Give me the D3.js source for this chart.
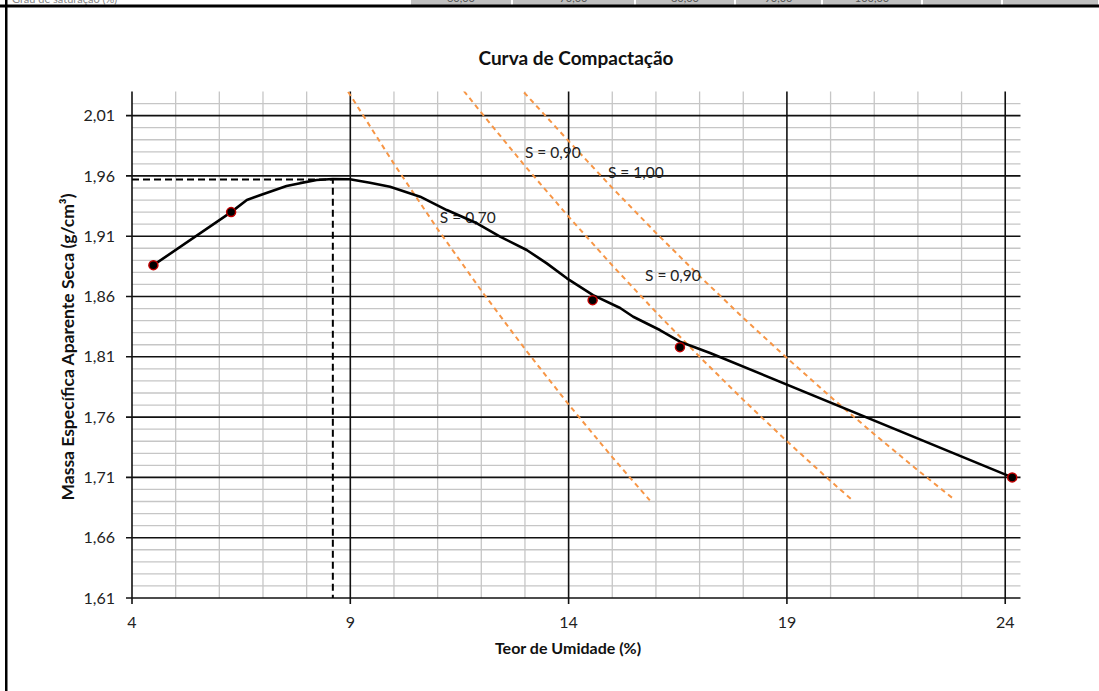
<!DOCTYPE html>
<html>
<head>
<meta charset="utf-8">
<script src="https://cdn.jsdelivr.net/npm/d3@7"></script>
<style>
  body { margin: 0; background: #fff; }
  svg { display: block; font-family: Lato, "Open Sans", sans-serif; }
</style>
</head>
<body>
<svg width="1099" height="691"></svg>
<script>
// measured points (umidade %, massa especifica g/cm3)
const pointW = [4.49, 6.27, 14.55, 16.55, 24.16];
const pointRho = [1.886, 1.930, 1.857, 1.818, 1.710];

// fitted compaction curve as plotted
const curveW = [4.49, 6.27, 6.63, 6.93, 7.54, 7.85, 8.23, 8.60, 8.99, 9.45, 9.91, 10.60, 11.21,
  11.90, 12.43, 13.04, 13.50, 13.96, 14.56, 15.18, 15.48, 16.09, 16.55, 17.24, 24.16];
const curveRho = [1.886, 1.930, 1.940, 1.944, 1.9516, 1.954, 1.9566, 1.9574, 1.9572, 1.9544, 1.951,
  1.9428, 1.9317, 1.9207, 1.9096, 1.8986, 1.8875, 1.8751, 1.8612, 1.8505, 1.8432, 1.8322, 1.8225, 1.8132, 1.710];

// saturation lines
const sat070W = [8.95, 10, 11, 12, 13, 14, 15, 15.86];
const sat070Rho = [2.0298, 1.970, 1.9159, 1.8649, 1.8165, 1.7705, 1.7268, 1.6909];
const sat090W = [11.6, 12, 13, 14, 15, 16, 17, 18, 19, 20, 20.5];
const sat090Rho = [2.0305, 2.0124, 1.9683, 1.9262, 1.8858, 1.8471, 1.8100, 1.7743, 1.7400, 1.7070, 1.6910];
const sat100W = [12.98, 14, 15, 16, 17, 18, 19, 20, 21, 22, 22.85];
const sat100Rho = [2.0292, 1.9889, 1.9501, 1.9128, 1.8769, 1.8423, 1.8090, 1.7768, 1.7458, 1.7159, 1.6912];

// optimum
const wOtima = 8.6;
const rhoMax = 1.957;

const satLabels = ["S = 0,70", "S = 0,90", "S = 1,00", "S = 0,90"];
const satLabelW = [11.05, 13.0, 14.9, 15.75];
const satLabelRho = [1.9255, 1.9795, 1.9625, 1.8775];

const xTicks = [4, 9, 14, 19, 24];
const yTicks = [1.61, 1.66, 1.71, 1.76, 1.81, 1.86, 1.91, 1.96, 2.01];

// spreadsheet row cut off above the chart
const rowLabel = "Grau de saturação (%)";
const rowValues = ["60,00", "70,00", "80,00", "90,00", "100,00", "", ""];

const svg = d3.select("svg");
const width = +svg.attr("width");

const x = d3.scaleLinear().domain([4, 24.35]).range([132, 1020.5]);
const y = d3.scaleLinear().domain([1.61, 2.03]).range([598, 91.5]);
const fmt = d3.formatLocale({decimal: ",", thousands: ".", grouping: [3], currency: ["", ""]});
const f2 = fmt.format(".2f");

// --- top row of the sheet
const cellEdges = [410, 512, 635, 735, 822, 922, 1002, 1099];
svg.append("clipPath").attr("id", "row").append("rect").attr("x", 0).attr("y", 0).attr("width", width).attr("height", 5);
const row = svg.append("g").attr("clip-path", "url(#row)");
row.append("text").attr("x", 12).attr("y", 2.5).attr("font-size", 11).attr("fill", "#888").text(rowLabel);
cellEdges.slice(0, -1).forEach((e, i) => {
  row.append("rect").attr("x", e + 1).attr("y", 0).attr("width", cellEdges[i + 1] - e - 2).attr("height", 5)
    .attr("fill", "#c0c0c0");
  row.append("text").attr("x", (e + cellEdges[i + 1]) / 2).attr("y", 2).attr("text-anchor", "middle")
    .attr("font-size", 11).attr("fill", "#555").text(rowValues[i]);
});
svg.append("rect").attr("x", 0).attr("y", 4.5).attr("width", width).attr("height", 3).attr("fill", "#000");
svg.append("rect").attr("x", 5).attr("y", 0).attr("width", 2.5).attr("height", 691).attr("fill", "#000");

// --- grid
const grid = svg.append("g");
const [x0, x1] = x.range();
const [y0, y1] = y.range();
d3.range(161, 203).map(v => v / 100).forEach(v => {
  if (Math.round(v * 100 - 161) % 5 === 0) return;
  grid.append("line").attr("x1", x0).attr("x2", x1).attr("y1", y(v)).attr("y2", y(v))
    .attr("stroke", "#c6c6c6").attr("stroke-width", 1.3);
});
d3.range(5, 25).forEach(v => {
  if ((v - 4) % 5 === 0) return;
  grid.append("line").attr("x1", x(v)).attr("x2", x(v)).attr("y1", y0).attr("y2", y1)
    .attr("stroke", "#c6c6c6").attr("stroke-width", 1.3);
});
yTicks.forEach(v => {
  grid.append("line").attr("x1", x0 - 6).attr("x2", x1).attr("y1", y(v)).attr("y2", y(v))
    .attr("stroke", "#111").attr("stroke-width", 1.6);
});
xTicks.forEach(v => {
  grid.append("line").attr("x1", x(v)).attr("x2", x(v)).attr("y1", y0 + 6).attr("y2", y1)
    .attr("stroke", "#111").attr("stroke-width", 1.6);
});

// tick labels
svg.append("g").selectAll("text").data(yTicks).join("text")
  .attr("x", 115).attr("y", d => y(d)).attr("dy", "0.35em").attr("text-anchor", "end")
  .attr("font-size", 16).attr("fill", "#222").text(d => f2(d));
svg.append("g").selectAll("text").data(xTicks).join("text")
  .attr("x", d => x(d)).attr("y", 628).attr("text-anchor", "middle")
  .attr("font-size", 16).attr("fill", "#222").text(d => d);

// --- saturation lines
svg.append("clipPath").attr("id", "plot").append("rect")
  .attr("x", x0).attr("y", y1).attr("width", x1 - x0).attr("height", y0 - y1);
const plot = svg.append("g").attr("clip-path", "url(#plot)");
const line = d3.line().x(d => x(d[0])).y(d => y(d[1]));
[[sat070W, sat070Rho], [sat090W, sat090Rho], [sat100W, sat100Rho]].forEach(([ws, rs]) => {
  plot.append("path").datum(ws.map((w, i) => [w, rs[i]])).attr("d", line)
    .attr("fill", "none").attr("stroke", "#f79646").attr("stroke-width", 2)
    .attr("stroke-dasharray", "5,4");
});

// labels
svg.append("g").selectAll("text").data(satLabels).join("text")
  .attr("x", (d, i) => x(satLabelW[i])).attr("y", (d, i) => y(satLabelRho[i])).attr("dy", "0.35em")
  .attr("font-size", 15.5).attr("fill", "#222").text(d => d);

// optimum dashed
svg.append("path").datum([[4, rhoMax], [wOtima, rhoMax], [wOtima, 1.61]]).attr("d", line)
  .attr("fill", "none").attr("stroke", "#000").attr("stroke-width", 2).attr("stroke-dasharray", "7,4");

// compaction curve
svg.append("path").datum(curveW.map((w, i) => [w, curveRho[i]])).attr("d", line)
  .attr("fill", "none").attr("stroke", "#000").attr("stroke-width", 2.6).attr("stroke-linejoin", "round");

svg.append("g").selectAll("circle").data(pointW).join("circle")
  .attr("cx", d => x(d)).attr("cy", (d, i) => y(pointRho[i])).attr("r", 4.5)
  .attr("fill", "#000").attr("stroke", "#c00000").attr("stroke-width", 1.5);

// titles
svg.append("text").attr("x", 576).attr("y", 65).attr("text-anchor", "middle")
  .attr("font-size", 19).attr("font-weight", "bold").attr("fill", "#111").text("Curva de Compactação");
svg.append("text").attr("x", 568).attr("y", 654).attr("text-anchor", "middle")
  .attr("font-size", 16).attr("font-weight", "bold").attr("fill", "#111").text("Teor de Umidade (%)");
svg.append("text").attr("transform", "translate(74,347) rotate(-90)").attr("text-anchor", "middle")
  .attr("font-size", 17.5).attr("font-weight", "bold").attr("fill", "#111")
  .text("Massa Específica Aparente Seca (g/cm³)");
</script>
</body>
</html>
